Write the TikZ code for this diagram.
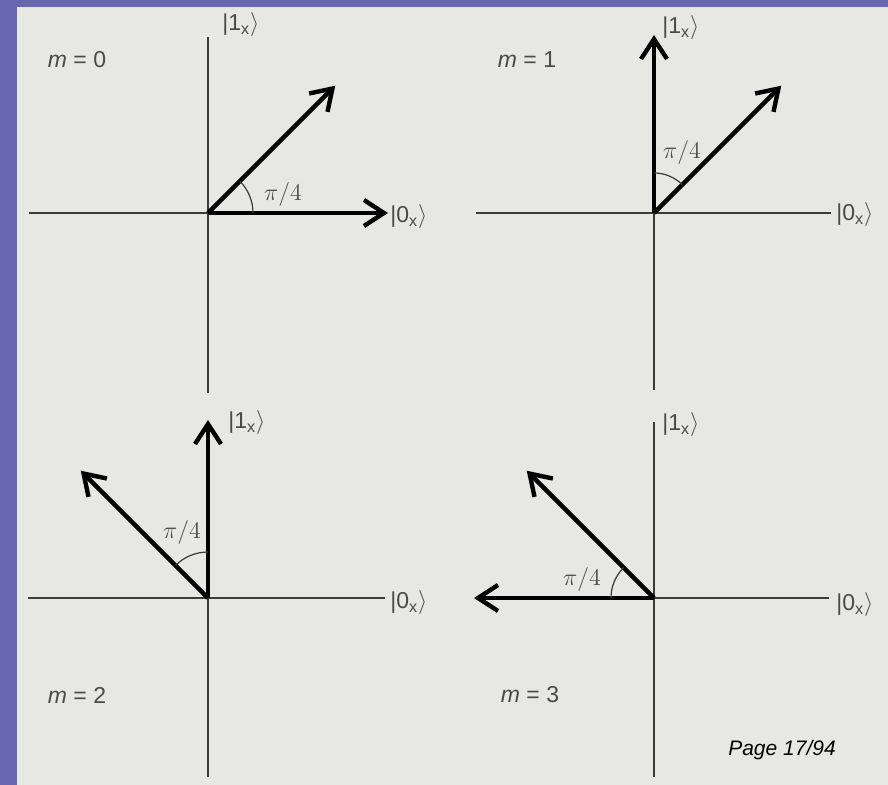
\documentclass[tikz,border=0pt]{standalone}
\usepackage{fontspec}
\setmainfont{Liberation Sans}
\usepackage{xcolor}
\usetikzlibrary{arrows.meta}
\definecolor{slideedge}{HTML}{6A67B2}
\definecolor{slidebg}{HTML}{E7E7E3}
\definecolor{axisgray}{HTML}{3A3A3A}
\definecolor{labelgray}{HTML}{4A4A4A}

\begin{document}
\begin{tikzpicture}[
  x=0.5pt,y=0.5pt,
  axis/.style={axisgray,line width=0.8pt},
  vec/.style={-{Straight Barb[length=10pt,width=13pt]},line width=2.2pt,black},
  ang/.style={axisgray,line width=0.6pt},
  ket/.style={labelgray,font=\fontsize{11.5}{13}\selectfont,inner sep=0pt,anchor=west},
  mlab/.style={labelgray,font=\fontsize{11.5}{13}\selectfont,inner sep=0pt},
  angle/.style={labelgray,font=\fontsize{12}{14}\selectfont,inner sep=0pt}]

  % Slide frame
  \fill[slideedge] (0,0) rectangle (888,785);
  \fill[slidebg] (17,0) rectangle (888,778);
  \useasboundingbox (0,0) rectangle (888,785);

  % m = 0
  \begin{scope}[shift={(208,572)}]
    \coordinate (o0) at (0,0);
    \coordinate (w0) at (-179,0);
    \coordinate (e0) at (180,0);
    \coordinate (n0) at (0,176);
    \coordinate (s0) at (0,-180);
    \coordinate (d0) at (45:180);
    \draw[axis] (w0)--(o0);
    \draw[axis] (s0)--(n0);
    \draw[vec] (o0)--(e0);
    \draw[vec] (o0)--(d0);
    \draw[ang] (45,0) arc[start angle=0,end angle=45,radius=45];
    \node[angle] (a0) at (75,18) {$\pi/4$};
    \node[ket] (k1a) at (14,188) {|1\textsubscript{x}$\rangle$};
    \node[ket] (k0a) at (182,-4) {|0\textsubscript{x}$\rangle$};
    \node[mlab] (m0) at (-131,153) {\textit{m} = 0};
  \end{scope}

  % m = 1
  \begin{scope}[shift={(654,572)}]
    \coordinate (o1) at (0,0);
    \coordinate (w1) at (-178,0);
    \coordinate (e1) at (177,0);
    \coordinate (n1) at (0,178);
    \coordinate (s1) at (0,-177);
    \coordinate (d1) at (45:180);
    \draw[axis] (w1)--(e1);
    \draw[axis] (s1)--(o1);
    \draw[vec] (o1)--(n1);
    \draw[vec] (o1)--(d1);
    \draw[ang] (45:40) arc[start angle=45,end angle=90,radius=40];
    \node[angle] (a1) at (28,60) {$\pi/4$};
    \node[ket] (k1b) at (8,185) {|1\textsubscript{x}$\rangle$};
    \node[ket] (k0b) at (182,-2) {|0\textsubscript{x}$\rangle$};
    \node[mlab] (m1) at (-127,153) {\textit{m} = 1};
  \end{scope}

  % m = 2
  \begin{scope}[shift={(208,187)}]
    \coordinate (o2) at (0,0);
    \coordinate (w2) at (-180,0);
    \coordinate (e2) at (177,0);
    \coordinate (n2) at (0,178);
    \coordinate (s2) at (0,-179);
    \coordinate (d2) at (135:180);
    \draw[axis] (w2)--(e2);
    \draw[axis] (s2)--(o2);
    \draw[vec] (o2)--(n2);
    \draw[vec] (o2)--(d2);
    \draw[ang] (90:46) arc[start angle=90,end angle=135,radius=46];
    \node[angle] (a2) at (-26,65) {$\pi/4$};
    \node[ket] (k1c) at (20,175) {|1\textsubscript{x}$\rangle$};
    \node[ket] (k0c) at (182,-5) {|0\textsubscript{x}$\rangle$};
    \node[mlab] (m2) at (-131,-97) {\textit{m} = 2};
  \end{scope}

  % m = 3
  \begin{scope}[shift={(654,187)}]
    \coordinate (o3) at (0,0);
    \coordinate (w3) at (-180,0);
    \coordinate (e3) at (175,0);
    \coordinate (n3) at (0,176);
    \coordinate (s3) at (0,-179);
    \coordinate (d3) at (135:180);
    \draw[axis] (o3)--(e3);
    \draw[axis] (s3)--(n3);
    \draw[vec] (o3)--(w3);
    \draw[vec] (o3)--(d3);
    \draw[ang] (135:43) arc[start angle=135,end angle=180,radius=43];
    \node[angle] (a3) at (-72,18) {$\pi/4$};
    \node[ket] (k1d) at (8,173) {|1\textsubscript{x}$\rangle$};
    \node[ket] (k0d) at (182,-7) {|0\textsubscript{x}$\rangle$};
    \node[mlab] (m3) at (-124,-97) {\textit{m} = 3};
  \end{scope}

  \node[font=\fontsize{10.5}{12}\selectfont\itshape,inner sep=0pt] (page) at (782,35) {Page 17/94};
\end{tikzpicture}
\end{document}
